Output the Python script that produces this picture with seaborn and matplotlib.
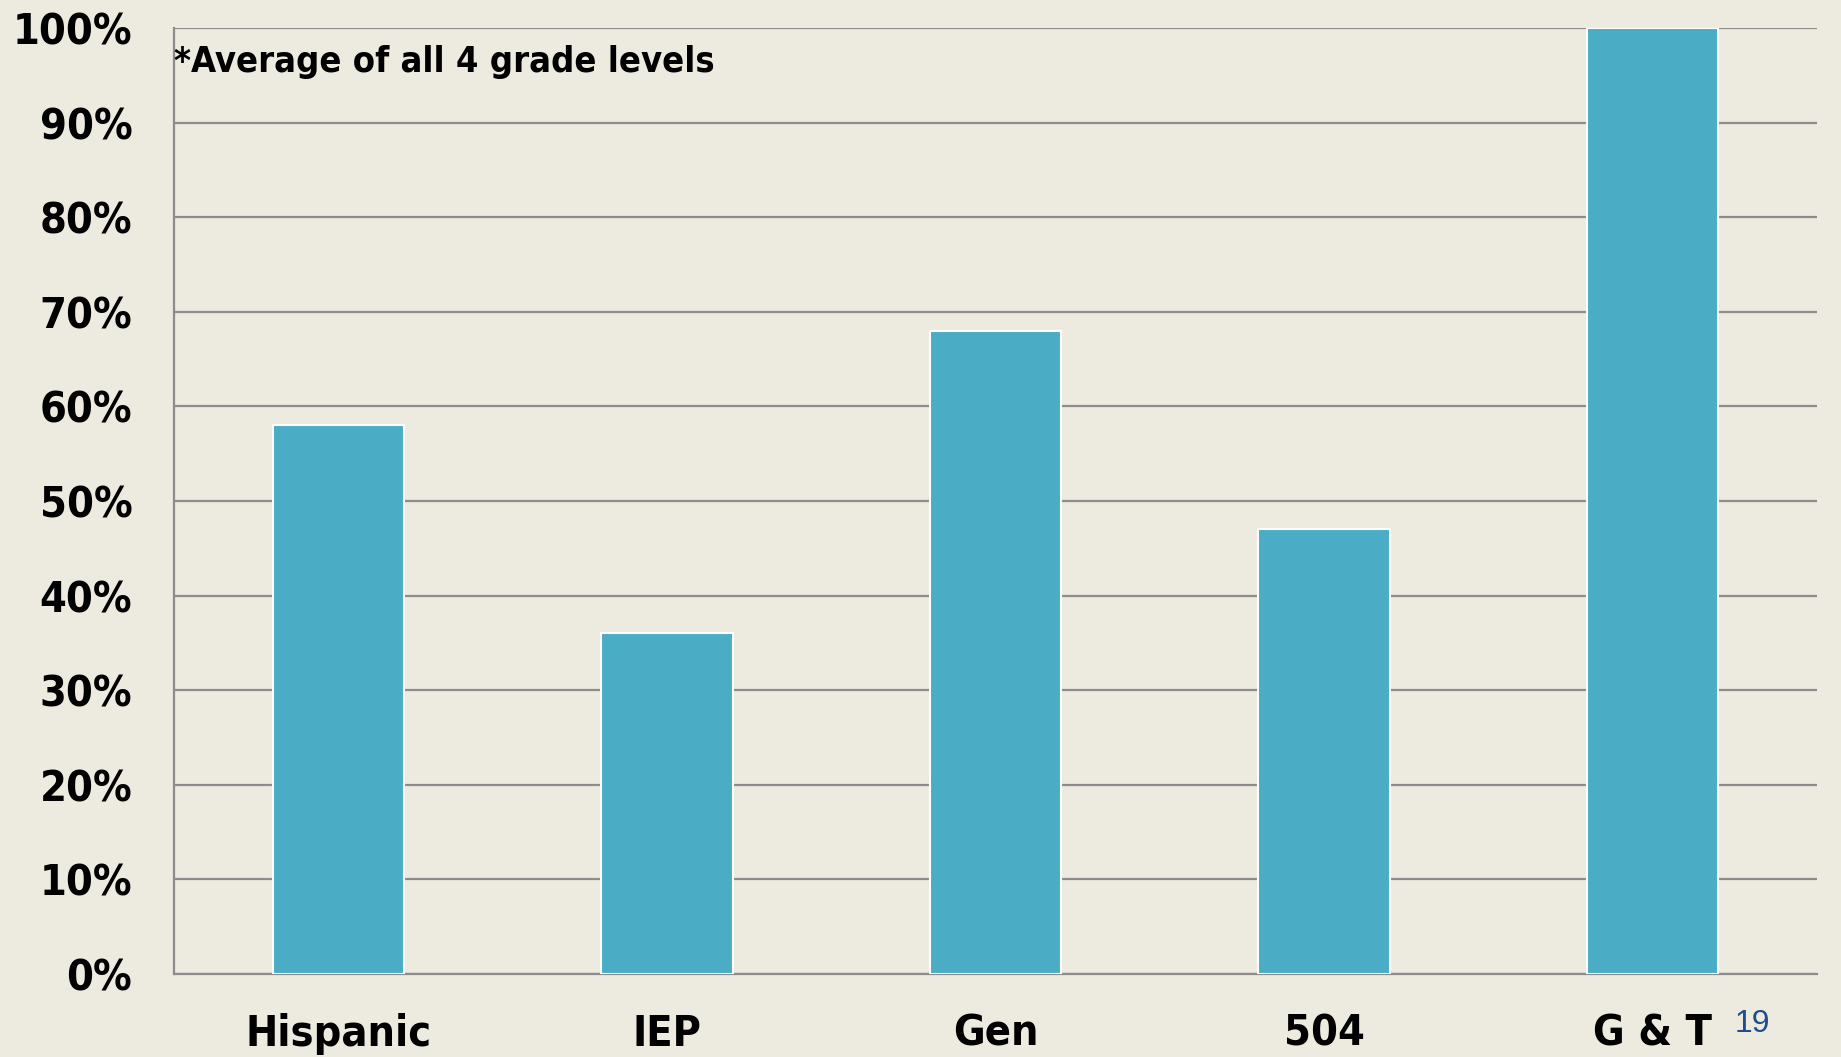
import seaborn as sns
import matplotlib.pyplot as plt
import matplotlib.patheffects as pe
from matplotlib import font_manager
import pandas as pd

# bar chart data
groups = ["Hispanic", "IEP", "Gen", "504", "G & T"]
pct = [58, 36, 68, 47, 100]
yticks = list(range(0, 101, 10))

bg = "#EDEBE0"
bar_color = "#4BACC6"


def wnum(w):
    return w if isinstance(w, int) else font_manager.weight_dict.get(w, 400)


# the original uses a bold condensed gothic, find the closest installed face
cond = [f for f in font_manager.fontManager.ttflist
        if "Narrow" in f.name or "Condensed" in f.name or "condensed" in str(f.stretch)]
bold_cond = [f for f in cond if wnum(f.weight) >= 600 and "italic" not in f.style]
reg_cond = [f for f in cond if "italic" not in f.style]

fake_bold = []
if bold_cond:
    fpath = bold_cond[0].fname
elif reg_cond:
    fpath = reg_cond[0].fname
    fake_bold = [pe.withStroke(linewidth=1.6, foreground="black")]
else:
    fpath = None


def fp(size):
    if fpath:
        return font_manager.FontProperties(fname=fpath, size=size)
    return font_manager.FontProperties(family="DejaVu Sans", weight="bold", size=size)


sns.set_style("white")
plt.rcParams['font.family'] = ['DejaVu Sans']
plt.rcParams['text.color'] = "black"
plt.rcParams['xtick.color'] = "black"
plt.rcParams['ytick.color'] = "black"

df = pd.DataFrame({"group": groups, "pct": pct})

fig = plt.figure(figsize=(18.41, 10.57), dpi=100, facecolor=bg)
ax = fig.add_axes([0.0945, 0.0785, 0.8925, 0.895])
ax.set_facecolor(bg)

sns.barplot(data=df, x="group", y="pct", color=bar_color, saturation=1,
            width=0.4, edgecolor="white", linewidth=1.5, ax=ax, zorder=3)

ax.set_ylim(0, 100)
ax.set_xlim(-0.5, len(groups) - 0.5)
ax.set_yticks(yticks)
ax.set_yticklabels([f"{t}%" for t in yticks])
ax.set_xticks(range(len(groups)))
ax.set_xticklabels(groups)
for lab in ax.get_yticklabels() + ax.get_xticklabels():
    lab.set_fontproperties(fp(31))
    lab.set_path_effects(fake_bold)
ax.tick_params(axis="y", length=0, pad=30)
ax.tick_params(axis="x", length=0, pad=28)
ax.set_xlabel("")
ax.set_ylabel("")

ax.yaxis.grid(True, color="#8C8C8C", linewidth=1.6, zorder=0)
ax.set_axisbelow(True)
for side in ["top", "right"]:
    ax.spines[side].set_visible(False)
for side in ["left", "bottom"]:
    ax.spines[side].set_color("#8C8C8C")
    ax.spines[side].set_linewidth(1.6)

ax.text(0.0, 0.982, "*Average of all 4 grade levels", transform=ax.transAxes,
        fontproperties=fp(26), va="top", ha="left", path_effects=fake_bold)

fig.text(0.952, 0.031, "19", fontsize=23, color="#1F4E8C", ha="center", va="center",
         family=['Liberation Sans', 'DejaVu Sans'])

fig.savefig("out.png", dpi=100, facecolor=bg)
